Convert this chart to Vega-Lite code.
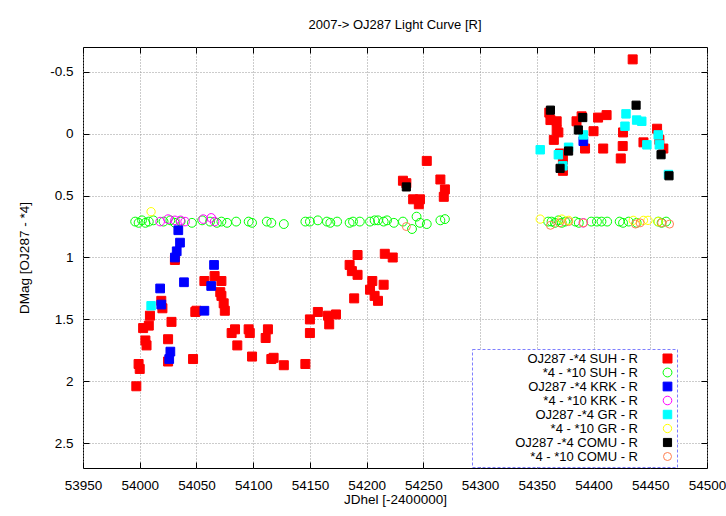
{
  "$schema": "https://vega.github.io/schema/vega-lite/v6.json",
  "autosize": {"type": "none"},
  "width": 624,
  "height": 421,
  "padding": {"left": 83, "top": 47, "right": 19, "bottom": 48},
  "background": "white",
  "title": {"text": "2007-> OJ287 Light Curve [R]", "fontSize": 13, "fontWeight": "normal", "font": "Liberation Sans", "anchor": "middle", "offset": 15, "color": "black"},
  "config": {
    "font": "Liberation Sans",
    "view": {"stroke": "black", "strokeWidth": 1},
    "legend": {"strokeDash": [3, 2]}
  },
  "data": {"values": [
    {"series": "OJ287 -*4 SUH - R", "jd": 53997, "dmag": 2.04},
    {"series": "OJ287 -*4 SUH - R", "jd": 53999, "dmag": 1.86},
    {"series": "OJ287 -*4 SUH - R", "jd": 54000, "dmag": 1.90},
    {"series": "OJ287 -*4 SUH - R", "jd": 54005, "dmag": 1.67},
    {"series": "OJ287 -*4 SUH - R", "jd": 54006, "dmag": 1.71},
    {"series": "OJ287 -*4 SUH - R", "jd": 54003, "dmag": 1.57},
    {"series": "OJ287 -*4 SUH - R", "jd": 54008, "dmag": 1.55},
    {"series": "OJ287 -*4 SUH - R", "jd": 54009, "dmag": 1.47},
    {"series": "OJ287 -*4 SUH - R", "jd": 54019, "dmag": 1.35},
    {"series": "OJ287 -*4 SUH - R", "jd": 54020, "dmag": 1.41},
    {"series": "OJ287 -*4 SUH - R", "jd": 54028, "dmag": 1.52},
    {"series": "OJ287 -*4 SUH - R", "jd": 54025, "dmag": 1.66},
    {"series": "OJ287 -*4 SUH - R", "jd": 54025, "dmag": 1.84},
    {"series": "OJ287 -*4 SUH - R", "jd": 54031, "dmag": 1.02},
    {"series": "OJ287 -*4 SUH - R", "jd": 54047, "dmag": 1.82},
    {"series": "OJ287 -*4 SUH - R", "jd": 54049, "dmag": 1.44},
    {"series": "OJ287 -*4 SUH - R", "jd": 54057, "dmag": 1.19},
    {"series": "OJ287 -*4 SUH - R", "jd": 54066, "dmag": 1.15},
    {"series": "OJ287 -*4 SUH - R", "jd": 54072, "dmag": 1.19},
    {"series": "OJ287 -*4 SUH - R", "jd": 54071, "dmag": 1.28},
    {"series": "OJ287 -*4 SUH - R", "jd": 54072, "dmag": 1.31},
    {"series": "OJ287 -*4 SUH - R", "jd": 54074, "dmag": 1.37},
    {"series": "OJ287 -*4 SUH - R", "jd": 54075, "dmag": 1.43},
    {"series": "OJ287 -*4 SUH - R", "jd": 54050, "dmag": 1.43},
    {"series": "OJ287 -*4 SUH - R", "jd": 54084, "dmag": 1.58},
    {"series": "OJ287 -*4 SUH - R", "jd": 54081, "dmag": 1.61},
    {"series": "OJ287 -*4 SUH - R", "jd": 54096, "dmag": 1.58},
    {"series": "OJ287 -*4 SUH - R", "jd": 54097, "dmag": 1.61},
    {"series": "OJ287 -*4 SUH - R", "jd": 54113, "dmag": 1.58},
    {"series": "OJ287 -*4 SUH - R", "jd": 54111, "dmag": 1.65},
    {"series": "OJ287 -*4 SUH - R", "jd": 54086, "dmag": 1.71},
    {"series": "OJ287 -*4 SUH - R", "jd": 54099, "dmag": 1.80},
    {"series": "OJ287 -*4 SUH - R", "jd": 54116, "dmag": 1.82},
    {"series": "OJ287 -*4 SUH - R", "jd": 54118, "dmag": 1.81},
    {"series": "OJ287 -*4 SUH - R", "jd": 54127, "dmag": 1.87},
    {"series": "OJ287 -*4 SUH - R", "jd": 54146, "dmag": 1.86},
    {"series": "OJ287 -*4 SUH - R", "jd": 54150, "dmag": 1.61},
    {"series": "OJ287 -*4 SUH - R", "jd": 54150, "dmag": 1.50},
    {"series": "OJ287 -*4 SUH - R", "jd": 54157, "dmag": 1.44},
    {"series": "OJ287 -*4 SUH - R", "jd": 54166, "dmag": 1.47},
    {"series": "OJ287 -*4 SUH - R", "jd": 54167, "dmag": 1.54},
    {"series": "OJ287 -*4 SUH - R", "jd": 54173, "dmag": 1.46},
    {"series": "OJ287 -*4 SUH - R", "jd": 54189, "dmag": 1.33},
    {"series": "OJ287 -*4 SUH - R", "jd": 54185, "dmag": 1.06},
    {"series": "OJ287 -*4 SUH - R", "jd": 54187, "dmag": 1.11},
    {"series": "OJ287 -*4 SUH - R", "jd": 54192, "dmag": 1.14},
    {"series": "OJ287 -*4 SUH - R", "jd": 54192, "dmag": 0.98},
    {"series": "OJ287 -*4 SUH - R", "jd": 54205, "dmag": 1.19},
    {"series": "OJ287 -*4 SUH - R", "jd": 54203, "dmag": 1.26},
    {"series": "OJ287 -*4 SUH - R", "jd": 54207, "dmag": 1.31},
    {"series": "OJ287 -*4 SUH - R", "jd": 54210, "dmag": 1.35},
    {"series": "OJ287 -*4 SUH - R", "jd": 54215, "dmag": 1.22},
    {"series": "OJ287 -*4 SUH - R", "jd": 54216, "dmag": 0.97},
    {"series": "OJ287 -*4 SUH - R", "jd": 54223, "dmag": 1.00},
    {"series": "OJ287 -*4 SUH - R", "jd": 54232, "dmag": 0.38},
    {"series": "OJ287 -*4 SUH - R", "jd": 54235, "dmag": 0.40},
    {"series": "OJ287 -*4 SUH - R", "jd": 54241, "dmag": 0.53},
    {"series": "OJ287 -*4 SUH - R", "jd": 54247, "dmag": 0.53},
    {"series": "OJ287 -*4 SUH - R", "jd": 54246, "dmag": 0.57},
    {"series": "OJ287 -*4 SUH - R", "jd": 54253, "dmag": 0.22},
    {"series": "OJ287 -*4 SUH - R", "jd": 54265, "dmag": 0.37},
    {"series": "OJ287 -*4 SUH - R", "jd": 54269, "dmag": 0.45},
    {"series": "OJ287 -*4 SUH - R", "jd": 54268, "dmag": 0.51},
    {"series": "OJ287 -*4 SUH - R", "jd": 54434.5, "dmag": -0.60},
    {"series": "OJ287 -*4 SUH - R", "jd": 54361, "dmag": -0.17},
    {"series": "OJ287 -*4 SUH - R", "jd": 54362, "dmag": -0.11},
    {"series": "OJ287 -*4 SUH - R", "jd": 54367.5, "dmag": -0.10},
    {"series": "OJ287 -*4 SUH - R", "jd": 54367.5, "dmag": -0.03},
    {"series": "OJ287 -*4 SUH - R", "jd": 54369, "dmag": -0.01},
    {"series": "OJ287 -*4 SUH - R", "jd": 54365, "dmag": 0.05},
    {"series": "OJ287 -*4 SUH - R", "jd": 54370.5, "dmag": 0.16},
    {"series": "OJ287 -*4 SUH - R", "jd": 54373, "dmag": 0.21},
    {"series": "OJ287 -*4 SUH - R", "jd": 54373, "dmag": 0.30},
    {"series": "OJ287 -*4 SUH - R", "jd": 54385, "dmag": -0.10},
    {"series": "OJ287 -*4 SUH - R", "jd": 54389.5, "dmag": -0.14},
    {"series": "OJ287 -*4 SUH - R", "jd": 54392.5, "dmag": 0.12},
    {"series": "OJ287 -*4 SUH - R", "jd": 54400, "dmag": -0.02},
    {"series": "OJ287 -*4 SUH - R", "jd": 54404, "dmag": -0.13},
    {"series": "OJ287 -*4 SUH - R", "jd": 54411.5, "dmag": -0.15},
    {"series": "OJ287 -*4 SUH - R", "jd": 54408.5, "dmag": 0.12},
    {"series": "OJ287 -*4 SUH - R", "jd": 54426, "dmag": -0.01},
    {"series": "OJ287 -*4 SUH - R", "jd": 54425.7, "dmag": 0.10},
    {"series": "OJ287 -*4 SUH - R", "jd": 54424, "dmag": 0.20},
    {"series": "OJ287 -*4 SUH - R", "jd": 54456, "dmag": -0.04},
    {"series": "OJ287 -*4 SUH - R", "jd": 54458, "dmag": 0.05},
    {"series": "OJ287 -*4 SUH - R", "jd": 54461.5, "dmag": 0.12},
    {"series": "OJ287 -*4 SUH - R", "jd": 54444, "dmag": 0.07},

    {"series": "*4 - *10 SUH - R", "jd": 53996, "dmag": 0.71},
    {"series": "*4 - *10 SUH - R", "jd": 53999, "dmag": 0.72},
    {"series": "*4 - *10 SUH - R", "jd": 54002, "dmag": 0.70},
    {"series": "*4 - *10 SUH - R", "jd": 54005, "dmag": 0.72},
    {"series": "*4 - *10 SUH - R", "jd": 54008, "dmag": 0.71},
    {"series": "*4 - *10 SUH - R", "jd": 54012, "dmag": 0.70},
    {"series": "*4 - *10 SUH - R", "jd": 54021, "dmag": 0.71},
    {"series": "*4 - *10 SUH - R", "jd": 54027, "dmag": 0.70},
    {"series": "*4 - *10 SUH - R", "jd": 54031, "dmag": 0.72},
    {"series": "*4 - *10 SUH - R", "jd": 54036, "dmag": 0.71},
    {"series": "*4 - *10 SUH - R", "jd": 54046, "dmag": 0.72},
    {"series": "*4 - *10 SUH - R", "jd": 54055, "dmag": 0.70},
    {"series": "*4 - *10 SUH - R", "jd": 54062, "dmag": 0.71},
    {"series": "*4 - *10 SUH - R", "jd": 54068, "dmag": 0.72},
    {"series": "*4 - *10 SUH - R", "jd": 54072, "dmag": 0.71},
    {"series": "*4 - *10 SUH - R", "jd": 54077, "dmag": 0.72},
    {"series": "*4 - *10 SUH - R", "jd": 54085, "dmag": 0.71},
    {"series": "*4 - *10 SUH - R", "jd": 54096, "dmag": 0.71},
    {"series": "*4 - *10 SUH - R", "jd": 54099, "dmag": 0.72},
    {"series": "*4 - *10 SUH - R", "jd": 54112, "dmag": 0.71},
    {"series": "*4 - *10 SUH - R", "jd": 54116, "dmag": 0.72},
    {"series": "*4 - *10 SUH - R", "jd": 54127, "dmag": 0.73},
    {"series": "*4 - *10 SUH - R", "jd": 54146, "dmag": 0.71},
    {"series": "*4 - *10 SUH - R", "jd": 54150, "dmag": 0.71},
    {"series": "*4 - *10 SUH - R", "jd": 54157, "dmag": 0.70},
    {"series": "*4 - *10 SUH - R", "jd": 54165, "dmag": 0.71},
    {"series": "*4 - *10 SUH - R", "jd": 54168, "dmag": 0.72},
    {"series": "*4 - *10 SUH - R", "jd": 54174, "dmag": 0.71},
    {"series": "*4 - *10 SUH - R", "jd": 54185, "dmag": 0.72},
    {"series": "*4 - *10 SUH - R", "jd": 54188, "dmag": 0.71},
    {"series": "*4 - *10 SUH - R", "jd": 54194, "dmag": 0.71},
    {"series": "*4 - *10 SUH - R", "jd": 54203, "dmag": 0.71},
    {"series": "*4 - *10 SUH - R", "jd": 54207, "dmag": 0.70},
    {"series": "*4 - *10 SUH - R", "jd": 54210, "dmag": 0.70},
    {"series": "*4 - *10 SUH - R", "jd": 54215, "dmag": 0.71},
    {"series": "*4 - *10 SUH - R", "jd": 54218, "dmag": 0.70},
    {"series": "*4 - *10 SUH - R", "jd": 54224, "dmag": 0.72},
    {"series": "*4 - *10 SUH - R", "jd": 54232, "dmag": 0.71},
    {"series": "*4 - *10 SUH - R", "jd": 54240, "dmag": 0.77},
    {"series": "*4 - *10 SUH - R", "jd": 54244, "dmag": 0.67},
    {"series": "*4 - *10 SUH - R", "jd": 54247, "dmag": 0.72},
    {"series": "*4 - *10 SUH - R", "jd": 54253, "dmag": 0.73},
    {"series": "*4 - *10 SUH - R", "jd": 54265, "dmag": 0.70},
    {"series": "*4 - *10 SUH - R", "jd": 54269, "dmag": 0.69},
    {"series": "*4 - *10 SUH - R", "jd": 54360, "dmag": 0.71},
    {"series": "*4 - *10 SUH - R", "jd": 54363, "dmag": 0.71},
    {"series": "*4 - *10 SUH - R", "jd": 54366, "dmag": 0.72},
    {"series": "*4 - *10 SUH - R", "jd": 54369, "dmag": 0.70},
    {"series": "*4 - *10 SUH - R", "jd": 54372, "dmag": 0.72},
    {"series": "*4 - *10 SUH - R", "jd": 54375, "dmag": 0.71},
    {"series": "*4 - *10 SUH - R", "jd": 54384, "dmag": 0.71},
    {"series": "*4 - *10 SUH - R", "jd": 54387, "dmag": 0.72},
    {"series": "*4 - *10 SUH - R", "jd": 54398, "dmag": 0.71},
    {"series": "*4 - *10 SUH - R", "jd": 54403, "dmag": 0.71},
    {"series": "*4 - *10 SUH - R", "jd": 54407, "dmag": 0.71},
    {"series": "*4 - *10 SUH - R", "jd": 54412, "dmag": 0.71},
    {"series": "*4 - *10 SUH - R", "jd": 54423, "dmag": 0.71},
    {"series": "*4 - *10 SUH - R", "jd": 54426, "dmag": 0.72},
    {"series": "*4 - *10 SUH - R", "jd": 54431, "dmag": 0.71},
    {"series": "*4 - *10 SUH - R", "jd": 54438, "dmag": 0.72},
    {"series": "*4 - *10 SUH - R", "jd": 54457, "dmag": 0.71},
    {"series": "*4 - *10 SUH - R", "jd": 54460, "dmag": 0.72},
    {"series": "*4 - *10 SUH - R", "jd": 54464, "dmag": 0.71},

    {"series": "OJ287 -*4 KRK - R", "jd": 54034, "dmag": 0.78},
    {"series": "OJ287 -*4 KRK - R", "jd": 54035.5, "dmag": 0.88},
    {"series": "OJ287 -*4 KRK - R", "jd": 54032.6, "dmag": 0.95},
    {"series": "OJ287 -*4 KRK - R", "jd": 54031, "dmag": 1.00},
    {"series": "OJ287 -*4 KRK - R", "jd": 54039, "dmag": 1.20},
    {"series": "OJ287 -*4 KRK - R", "jd": 54018, "dmag": 1.25},
    {"series": "OJ287 -*4 KRK - R", "jd": 54019, "dmag": 1.38},
    {"series": "OJ287 -*4 KRK - R", "jd": 54027, "dmag": 1.76},
    {"series": "OJ287 -*4 KRK - R", "jd": 54026, "dmag": 1.82},
    {"series": "OJ287 -*4 KRK - R", "jd": 54057, "dmag": 1.43},
    {"series": "OJ287 -*4 KRK - R", "jd": 54065.5, "dmag": 1.06},
    {"series": "OJ287 -*4 KRK - R", "jd": 54063, "dmag": 1.23},
    {"series": "OJ287 -*4 KRK - R", "jd": 54391, "dmag": 0.06},

    {"series": "*4 - *10 KRK - R", "jd": 54018, "dmag": 0.71},
    {"series": "*4 - *10 KRK - R", "jd": 54025, "dmag": 0.69},
    {"series": "*4 - *10 KRK - R", "jd": 54031, "dmag": 0.70},
    {"series": "*4 - *10 KRK - R", "jd": 54036, "dmag": 0.70},
    {"series": "*4 - *10 KRK - R", "jd": 54040, "dmag": 0.71},
    {"series": "*4 - *10 KRK - R", "jd": 54056, "dmag": 0.69},
    {"series": "*4 - *10 KRK - R", "jd": 54063, "dmag": 0.68},
    {"series": "*4 - *10 KRK - R", "jd": 54066, "dmag": 0.71},
    {"series": "*4 - *10 KRK - R", "jd": 54391, "dmag": 0.72},

    {"series": "OJ287 -*4 GR - R", "jd": 54010, "dmag": 1.39},
    {"series": "OJ287 -*4 GR - R", "jd": 54353, "dmag": 0.13},
    {"series": "OJ287 -*4 GR - R", "jd": 54369, "dmag": 0.17},
    {"series": "OJ287 -*4 GR - R", "jd": 54373, "dmag": 0.26},
    {"series": "OJ287 -*4 GR - R", "jd": 54378, "dmag": 0.11},
    {"series": "OJ287 -*4 GR - R", "jd": 54391, "dmag": 0.01},
    {"series": "OJ287 -*4 GR - R", "jd": 54428.6, "dmag": -0.16},
    {"series": "OJ287 -*4 GR - R", "jd": 54427.7, "dmag": -0.06},
    {"series": "OJ287 -*4 GR - R", "jd": 54438, "dmag": -0.11},
    {"series": "OJ287 -*4 GR - R", "jd": 54442.5, "dmag": -0.10},
    {"series": "OJ287 -*4 GR - R", "jd": 54447, "dmag": 0.09},
    {"series": "OJ287 -*4 GR - R", "jd": 54457, "dmag": 0.01},
    {"series": "OJ287 -*4 GR - R", "jd": 54458, "dmag": 0.09},
    {"series": "OJ287 -*4 GR - R", "jd": 54466, "dmag": 0.33},

    {"series": "*4 - *10 GR - R", "jd": 54010, "dmag": 0.63},
    {"series": "*4 - *10 GR - R", "jd": 54353, "dmag": 0.69},
    {"series": "*4 - *10 GR - R", "jd": 54372, "dmag": 0.69},
    {"series": "*4 - *10 GR - R", "jd": 54378, "dmag": 0.70},
    {"series": "*4 - *10 GR - R", "jd": 54435, "dmag": 0.70},
    {"series": "*4 - *10 GR - R", "jd": 54444, "dmag": 0.70},
    {"series": "*4 - *10 GR - R", "jd": 54448, "dmag": 0.70},
    {"series": "*4 - *10 GR - R", "jd": 54457, "dmag": 0.71},

    {"series": "OJ287 -*4 COMU - R", "jd": 54235, "dmag": 0.43},
    {"series": "OJ287 -*4 COMU - R", "jd": 54362, "dmag": -0.19},
    {"series": "OJ287 -*4 COMU - R", "jd": 54390.5, "dmag": -0.13},
    {"series": "OJ287 -*4 COMU - R", "jd": 54386.6, "dmag": -0.03},
    {"series": "OJ287 -*4 COMU - R", "jd": 54378, "dmag": 0.14},
    {"series": "OJ287 -*4 COMU - R", "jd": 54370.5, "dmag": 0.28},
    {"series": "OJ287 -*4 COMU - R", "jd": 54437.5, "dmag": -0.23},
    {"series": "OJ287 -*4 COMU - R", "jd": 54459.5, "dmag": 0.17},
    {"series": "OJ287 -*4 COMU - R", "jd": 54466.5, "dmag": 0.34},

    {"series": "*4 - *10 COMU - R", "jd": 54235, "dmag": 0.75},
    {"series": "*4 - *10 COMU - R", "jd": 54362, "dmag": 0.74},
    {"series": "*4 - *10 COMU - R", "jd": 54370, "dmag": 0.72},
    {"series": "*4 - *10 COMU - R", "jd": 54378, "dmag": 0.71},
    {"series": "*4 - *10 COMU - R", "jd": 54391, "dmag": 0.72},
    {"series": "*4 - *10 COMU - R", "jd": 54437, "dmag": 0.73},
    {"series": "*4 - *10 COMU - R", "jd": 54441, "dmag": 0.72},
    {"series": "*4 - *10 COMU - R", "jd": 54460, "dmag": 0.72},
    {"series": "*4 - *10 COMU - R", "jd": 54467, "dmag": 0.73}
  ]},
  "layer": [
    {
      "mark": {"type": "point", "opacity": 1, "strokeWidth": 1},
      "encoding": {
        "x": {"field": "jd", "type": "quantitative",
          "scale": {"domain": [53950, 54500], "nice": false, "zero": false},
          "axis": {"orient": "bottom", "title": "JDhel [-2400000]", "values": [53950, 54000, 54050, 54100, 54150, 54200, 54250, 54300, 54350, 54400, 54450, 54500], "format": "d",
            "grid": true, "gridDash": [1, 2], "gridColor": "#999999", "gridWidth": 1,
            "domain": false, "tickSize": -6, "tickColor": "black", "labelPadding": 16,
            "labelFontSize": 13.5, "labelColor": "black", "labelFont": "Liberation Sans", "labelFlush": false,
            "titleFontSize": 13.5, "titleFontWeight": "normal", "titleColor": "black", "titleFont": "Liberation Sans", "titlePadding": 1}},
        "y": {"field": "dmag", "type": "quantitative",
          "scale": {"domain": [-0.7, 2.7], "reverse": true, "nice": false, "zero": false},
          "axis": {"orient": "left", "title": "DMag [OJ287 - *4]", "values": [-0.5, 0, 0.5, 1, 1.5, 2, 2.5], "labelExpr": "'' + datum.value",
            "grid": true, "gridDash": [1, 2], "gridColor": "#999999", "gridWidth": 1,
            "domain": false, "tickSize": -6, "tickColor": "black", "labelPadding": 16,
            "labelFontSize": 13.5, "labelColor": "black", "labelFont": "Liberation Sans",
            "titleFontSize": 13.5, "titleFontWeight": "normal", "titleColor": "black", "titleFont": "Liberation Sans", "titlePadding": 18}},
        "shape": {"field": "series", "type": "nominal",
          "scale": {"domain": ["OJ287 -*4 SUH - R", "*4 - *10 SUH - R", "OJ287 -*4 KRK - R", "*4 - *10 KRK - R", "OJ287 -*4 GR - R", "*4 - *10 GR - R", "OJ287 -*4 COMU - R", "*4 - *10 COMU - R"],
            "range": ["square", "circle", "square", "circle", "square", "circle", "square", "circle"]},
          "legend": {"title": null}},
        "fill": {"field": "series", "type": "nominal",
          "scale": {"domain": ["OJ287 -*4 SUH - R", "*4 - *10 SUH - R", "OJ287 -*4 KRK - R", "*4 - *10 KRK - R", "OJ287 -*4 GR - R", "*4 - *10 GR - R", "OJ287 -*4 COMU - R", "*4 - *10 COMU - R"],
            "range": ["#ff0000", "transparent", "#0000ff", "transparent", "#00ffff", "transparent", "#000000", "transparent"]},
          "legend": {"title": null}},
        "stroke": {"field": "series", "type": "nominal",
          "scale": {"domain": ["OJ287 -*4 SUH - R", "*4 - *10 SUH - R", "OJ287 -*4 KRK - R", "*4 - *10 KRK - R", "OJ287 -*4 GR - R", "*4 - *10 GR - R", "OJ287 -*4 COMU - R", "*4 - *10 COMU - R"],
            "range": ["#ff0000", "#00ff00", "#0000ff", "#ff00ff", "#00ffff", "#ffff00", "#000000", "#ff7f50"]},
          "legend": {"title": null, "orient": "none", "legendX": 389, "legendY": 302,
            "labelAlign": "right", "labelOffset": -36, "symbolOffset": 186, "padding": 3,
            "strokeColor": "#7f7fff", "labelFontSize": 13, "labelFont": "Liberation Sans", "labelColor": "black",
            "rowPadding": 0, "symbolStrokeWidth": 1, "fillColor": "white"}},
        "size": {"field": "series", "type": "nominal",
          "scale": {"domain": ["OJ287 -*4 SUH - R", "*4 - *10 SUH - R", "OJ287 -*4 KRK - R", "*4 - *10 KRK - R", "OJ287 -*4 GR - R", "*4 - *10 GR - R", "OJ287 -*4 COMU - R", "*4 - *10 COMU - R"],
            "range": [81, 64, 81, 64, 81, 64, 81, 64]},
          "legend": {"title": null}}
      }
    },
    {
      "mark": {"type": "point", "opacity": 0},
      "encoding": {
        "x": {"field": "jd", "type": "quantitative",
          "axis": {"orient": "top", "title": null, "labels": false, "values": [53950, 54000, 54050, 54100, 54150, 54200, 54250, 54300, 54350, 54400, 54450, 54500],
            "grid": false, "domain": false, "tickSize": -6, "tickColor": "black"}},
        "y": {"field": "dmag", "type": "quantitative",
          "axis": {"orient": "right", "title": null, "labels": false, "values": [-0.5, 0, 0.5, 1, 1.5, 2, 2.5],
            "grid": false, "domain": false, "tickSize": -6, "tickColor": "black"}}
      }
    }
  ]
}
